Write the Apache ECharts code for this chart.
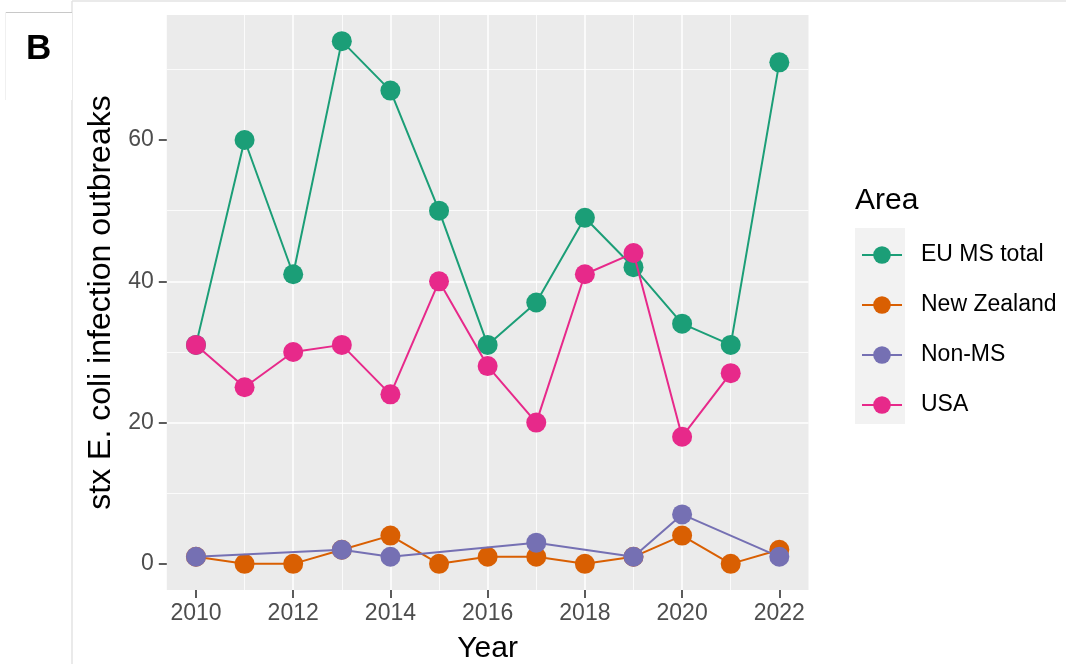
<!DOCTYPE html>
<html>
<head>
<meta charset="utf-8">
<script src="https://cdn.jsdelivr.net/npm/echarts@6/dist/echarts.min.js"></script>
<style>
html,body{margin:0;padding:0;background:#fff;}
#chart{width:1066px;height:664px;}
</style>
</head>
<body>
<div id="chart"></div>
<script>
// ---- data ----
const years = [2010,2011,2012,2013,2014,2015,2016,2017,2018,2019,2020,2021,2022];
const euMsTotal   = [31,60,41,74,67,50,31,37,49,42,34,31,71];
const newZealand  = [1,0,0,2,4,0,1,1,0,1,4,0,2];
const nonMs       = [1,null,null,2,1,null,null,3,null,1,7,null,1];
const usa         = [31,25,30,31,24,40,28,20,41,44,18,27,null];
const seriesNames = ['EU MS total','New Zealand','Non-MS','USA'];
const xTickLabels = [2010,2012,2014,2016,2018,2020,2022];
const yTickLabels = [0,20,40,60];
const xMinor = [2011,2013,2015,2017,2019,2021];
const yMinor = [10,30,50,70];

const colors = ['#1B9E77','#D95F02','#7570B3','#E7298A'];
const pairs = v => years.map((y,i)=>[y,v[i]]).filter(p=>p[1]!==null);

const chart = echarts.init(document.getElementById('chart'), null, {renderer:'canvas'});
const font = 'Liberation Sans, Arial, sans-serif';

const minorLines = yMinor.map(v=>({yAxis:v})).concat(xMinor.map(v=>({xAxis:v})));

function mk(name, vals, idx){
  return {
    name: name,
    type: 'line',
    data: pairs(vals),
    color: colors[idx],
    symbol: 'circle',
    symbolSize: 20,
    showSymbol: true,
    lineStyle: {width: 2, color: colors[idx]},
    itemStyle: {color: colors[idx]},
    emphasis: {disabled: true},
    z: 3 + idx
  };
}

const option = {
  animation: false,
  backgroundColor: '#ffffff',
  grid: {left: 166.8, right: 257.5, top: 15, bottom: 74, show: true, backgroundColor: '#EBEBEB', borderWidth: 0,
         containLabel: false, outerBoundsMode: 'none'},
  xAxis: {
    type: 'value', min: 2009.4, max: 2022.6, splitNumber: 6,
    name: 'Year', nameLocation: 'middle', nameGap: 44,
    nameTextStyle: {fontFamily: font, fontSize: 30, color: '#000'},
    axisLine: {show: false, onZero: false},
    axisTick: {show: true, inside: false, length: 8, lineStyle: {color: '#333333', width: 1.6}, customValues: xTickLabels},
    axisLabel: {color: '#4D4D4D', fontSize: 23, fontFamily: font, margin: 12, customValues: xTickLabels, formatter: v => String(v)},
    splitLine: {show: true, showMinLine: false, showMaxLine: false, lineStyle: {color: '#fff', width: 1.5}}
  },
  yAxis: {
    type: 'value', min: -3.7, max: 77.7, splitNumber: 5,
    name: 'stx E. coli infection outbreaks', nameLocation: 'middle', nameGap: 49,
    nameTextStyle: {fontFamily: font, fontSize: 32, color: '#000'},
    axisLine: {show: false, onZero: false},
    axisTick: {show: true, inside: false, length: 8, lineStyle: {color: '#333333', width: 1.6}, customValues: yTickLabels},
    axisLabel: {color: '#4D4D4D', fontSize: 23, fontFamily: font, margin: 13, customValues: yTickLabels},
    splitLine: {show: true, showMinLine: false, showMaxLine: false, lineStyle: {color: '#fff', width: 1.5}}
  },
  legend: {
    orient: 'vertical', left: 856, top: 238.5, itemGap: 27,
    itemWidth: 40, itemHeight: 22,
    textStyle: {fontFamily: font, fontSize: 23, color: '#000', padding: [0,0,0,14]},
    data: seriesNames,
    selectedMode: false
  },
  graphic: [
    {type: 'rect', left: 855, top: 228, shape: {width: 50, height: 196}, style: {fill: '#F2F2F2'}, z: 0},
    {type: 'text', left: 855, top: 186, style: {text: 'Area', font: '30px ' + font, fill: '#000'}},
    {type: 'line', shape: {x1: 72, y1: 1, x2: 1066, y2: 1}, style: {stroke: '#E3E3E3', lineWidth: 1.5}},
    {type: 'line', shape: {x1: 72, y1: 1, x2: 72, y2: 664}, style: {stroke: '#E3E3E3', lineWidth: 1.5}},
    {type: 'rect', shape: {x: 5, y: 12, width: 67, height: 88}, style: {fill: '#fff', stroke: null}, z: 10},
    {type: 'line', shape: {x1: 5, y1: 12.5, x2: 72, y2: 12.5}, style: {stroke: '#C8C8C8', lineWidth: 1.2}, z: 11},
    {type: 'line', shape: {x1: 5.5, y1: 12, x2: 5.5, y2: 100}, style: {stroke: '#F0F0F0', lineWidth: 1}, z: 11},
    {type: 'text', left: 26, top: 32, style: {text: 'B', font: 'bold 35px ' + font, fill: '#000'}, z: 12}
  ],
  series: [
    {
      name: '__grid', type: 'line', data: [], silent: true, z: 1,
      markLine: {silent: true, symbol: 'none', label: {show: false}, z: 1,
        lineStyle: {color: '#ffffff', width: 0.8, type: 'solid'}, data: minorLines, animation: false}
    },
    mk(seriesNames[0], euMsTotal, 0),
    mk(seriesNames[1], newZealand, 1),
    mk(seriesNames[2], nonMs, 2),
    mk(seriesNames[3], usa, 3)
  ]
};
chart.setOption(option);
</script>
</body>
</html>
